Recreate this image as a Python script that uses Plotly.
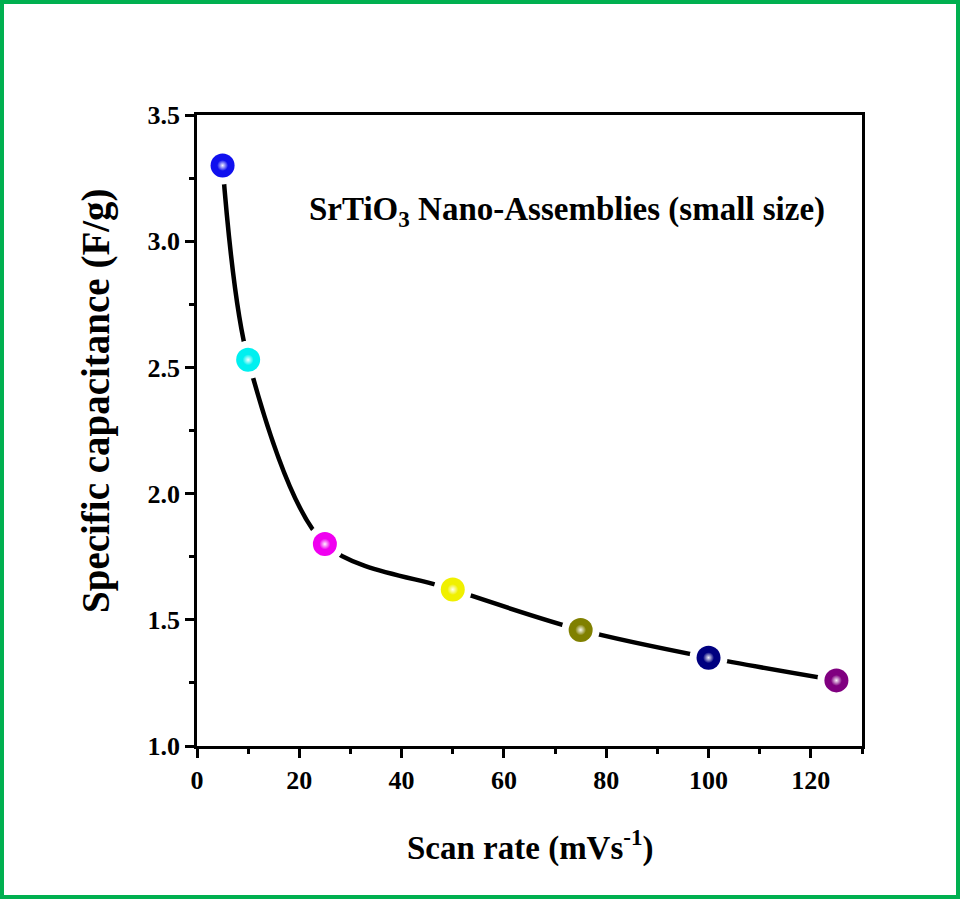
import plotly.graph_objects as go

scan_rate = [5, 10, 25, 50, 75, 100, 125]
capacitance = [3.30, 2.53, 1.80, 1.62, 1.46, 1.35, 1.26]
colors = ["#1010ee", "#00f0f0", "#f000f0", "#f0f000", "#808000", "#000080", "#800080"]
title_text = "SrTiO<sub>3</sub> Nano-Assemblies (small size)"
x_title = "Scan rate (mVs<sup>-1</sup>)"
y_title = "Specific capacitance (F/g)"

W, H = 960, 899
L, R, T, B = 197, 98, 115, 153
pw, ph = W - L - R, H - T - B

FONT = "Liberation Serif"

fig = go.Figure()
# smooth line
fig.add_trace(go.Scatter(x=scan_rate, y=capacitance, mode="lines",
                         line=dict(color="black", width=4.5, shape="spline", smoothing=0.85),
                         hoverinfo="skip", showlegend=False))
# white gaps around symbols
fig.add_trace(go.Scatter(x=scan_rate, y=capacitance, mode="markers",
                         marker=dict(color="white", size=38, line=dict(width=0)),
                         hoverinfo="skip", showlegend=False))
# colored spheres
fig.add_trace(go.Scatter(x=scan_rate, y=capacitance, mode="markers",
                         marker=dict(color=colors, size=24, line=dict(width=0)),
                         showlegend=False))
# highlights
fig.add_trace(go.Scatter(x=scan_rate, y=capacitance, mode="markers",
                         marker=dict(color="rgba(255,255,255,0)", size=11, line=dict(width=0),
                                     gradient=dict(type="radial", color="rgba(255,255,255,0.95)")),
                         hoverinfo="skip", showlegend=False))

axis_common = dict(showline=True, linecolor="black", linewidth=2.5, mirror=True,
                   ticks="outside", ticklen=9, tickwidth=2.5, tickcolor="black",
                   showgrid=False, zeroline=False,
                   tickfont=dict(family=FONT, size=26, color="black", weight="bold"))

fig.update_xaxes(range=[0, 130], dtick=20, tick0=0,
                 minor=dict(dtick=10, tick0=0, ticks="outside", ticklen=5, tickwidth=2.5, tickcolor="black"),
                 **axis_common)
fig.update_yaxes(range=[1.0, 3.5], dtick=0.5, tick0=1.0, tickformat=".1f",
                 minor=dict(dtick=0.25, tick0=1.0, ticks="outside", ticklen=5, tickwidth=2.5, tickcolor="black"),
                 **axis_common)

fig.add_annotation(text=title_text, xref="paper", yref="paper",
                   x=(567 - L) / pw, y=(H - B - 212) / ph, xanchor="center", yanchor="middle",
                   showarrow=False, font=dict(family=FONT, size=33, color="black", weight="bold"))
fig.add_annotation(text=x_title, xref="paper", yref="paper",
                   x=(530 - L) / pw, y=(H - B - 845) / ph, xanchor="center", yanchor="middle",
                   showarrow=False, font=dict(family=FONT, size=33, color="black", weight="bold"))
fig.add_annotation(text=y_title, xref="paper", yref="paper", textangle=-90,
                   x=(96 - L) / pw, y=(H - B - 401) / ph, xanchor="center", yanchor="middle",
                   showarrow=False, font=dict(family=FONT, size=39, color="black", weight="bold"))

# green frame around the whole picture
fig.add_shape(type="rect", xref="paper", yref="paper",
              x0=(2 - L) / pw, x1=(958 - L) / pw,
              y0=(H - B - 897) / ph, y1=(H - B - 2) / ph,
              line=dict(color="#00b050", width=4), fillcolor="rgba(0,0,0,0)", layer="below")

fig.update_layout(width=W, height=H, margin=dict(l=L, r=R, t=T, b=B),
                  plot_bgcolor="white", paper_bgcolor="white")

fig.write_html("out.html")
